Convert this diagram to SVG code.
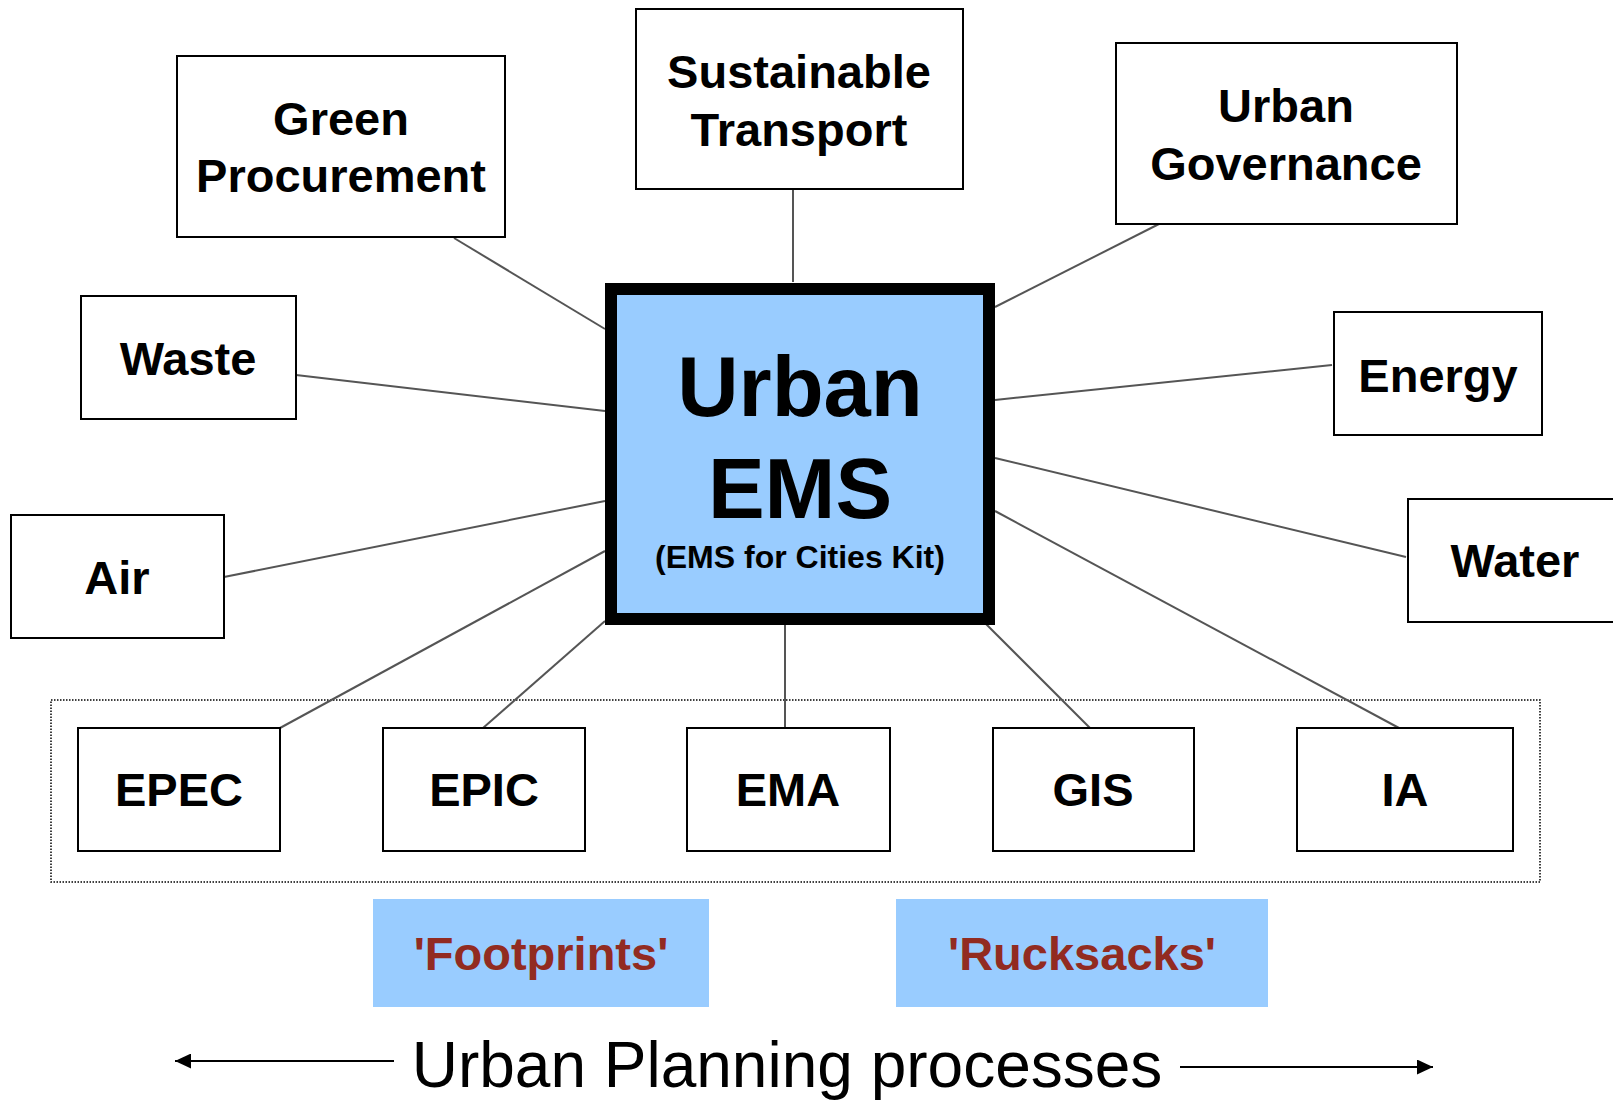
<svg xmlns="http://www.w3.org/2000/svg" width="1613" height="1102" viewBox="0 0 1613 1102">
<style>
  .box { fill: #ffffff; stroke: #000000; stroke-width: 2; }
  .lbl { font-family: "Liberation Sans", Arial, sans-serif; font-weight: bold; font-size: 47px; fill: #000000; text-anchor: middle; }
  .conn { stroke: #555555; stroke-width: 2; fill: none; }
  .tag { fill: #99ccff; }
  .tagt { font-family: "Liberation Sans", Arial, sans-serif; font-weight: bold; font-size: 47px; fill: #922b21; text-anchor: middle; }
  .big { font-family: "Liberation Sans", Arial, sans-serif; font-weight: bold; font-size: 85px; fill: #000000; text-anchor: middle; }
</style>
<defs>
  <marker id="ah" viewBox="0 0 16 15" refX="16" refY="7.5" markerWidth="16" markerHeight="15" orient="auto-start-reverse" markerUnits="userSpaceOnUse">
    <path d="M0,0 L16,7.5 L0,15 z" fill="#000000"/>
  </marker>
</defs>
<rect width="1613" height="1102" fill="#ffffff"/>
<rect id="group-frame" x="51" y="700" width="1489" height="182" fill="none" stroke="#000000" stroke-width="1.5" stroke-dasharray="1.5,1.5"/>
<g id="connectors">
  <line class="conn" x1="454" y1="238" x2="605" y2="329"/>
  <line class="conn" x1="793" y1="189" x2="793" y2="282"/>
  <line class="conn" x1="1159" y1="224" x2="995" y2="307"/>
  <line class="conn" x1="296" y1="375" x2="605" y2="411"/>
  <line class="conn" x1="1332" y1="365" x2="995" y2="400"/>
  <line class="conn" x1="224" y1="577" x2="605" y2="501"/>
  <line class="conn" x1="1406" y1="557" x2="995" y2="458"/>
  <line class="conn" x1="280" y1="728" x2="605" y2="551"/>
  <line class="conn" x1="483" y1="728" x2="605" y2="621"/>
  <line class="conn" x1="785" y1="728" x2="785" y2="623"/>
  <line class="conn" x1="1090" y1="728" x2="985" y2="623"/>
  <line class="conn" x1="1399" y1="728" x2="995" y2="511"/>
</g>
<g id="urban-ems">
  <rect x="611" y="289" width="378" height="330" fill="#99ccff" stroke="#000000" stroke-width="12"/>
  <text class="big" x="800" y="416">Urban</text>
  <text class="big" x="800" y="518">EMS</text>
  <text x="800" y="568" text-anchor="middle" font-family="Liberation Sans, Arial, sans-serif" font-weight="bold" font-size="32">(EMS for Cities Kit)</text>
</g>
<g id="green-procurement">
  <rect class="box" x="177" y="56" width="328" height="181"/>
  <text class="lbl" x="341" y="135">Green</text>
  <text class="lbl" x="341" y="192">Procurement</text>
</g>
<g id="sustainable-transport">
  <rect class="box" x="636" y="9" width="327" height="180"/>
  <text class="lbl" x="799" y="88">Sustainable</text>
  <text class="lbl" x="799" y="146">Transport</text>
</g>
<g id="urban-governance">
  <rect class="box" x="1116" y="43" width="341" height="181"/>
  <text class="lbl" x="1286" y="122">Urban</text>
  <text class="lbl" x="1286" y="180">Governance</text>
</g>
<g id="waste">
  <rect class="box" x="81" y="296" width="215" height="123"/>
  <text class="lbl" x="188" y="375">Waste</text>
</g>
<g id="energy">
  <rect class="box" x="1334" y="312" width="208" height="123"/>
  <text class="lbl" x="1438" y="392">Energy</text>
</g>
<g id="air">
  <rect class="box" x="11" y="515" width="213" height="123"/>
  <text class="lbl" x="117" y="594">Air</text>
</g>
<g id="water">
  <rect class="box" x="1408" y="499" width="220" height="123"/>
  <text class="lbl" x="1515" y="577">Water</text>
</g>
<g id="epec">
  <rect class="box" x="78" y="728" width="202" height="123"/>
  <text class="lbl" x="179" y="806">EPEC</text>
</g>
<g id="epic">
  <rect class="box" x="383" y="728" width="202" height="123"/>
  <text class="lbl" x="484" y="806">EPIC</text>
</g>
<g id="ema">
  <rect class="box" x="687" y="728" width="203" height="123"/>
  <text class="lbl" x="788" y="806">EMA</text>
</g>
<g id="gis">
  <rect class="box" x="993" y="728" width="201" height="123"/>
  <text class="lbl" x="1093" y="806">GIS</text>
</g>
<g id="ia">
  <rect class="box" x="1297" y="728" width="216" height="123"/>
  <text class="lbl" x="1405" y="806">IA</text>
</g>
<g id="footprints">
  <rect class="tag" x="373" y="899" width="336" height="108"/>
  <text class="tagt" x="541" y="970">'Footprints'</text>
</g>
<g id="rucksacks">
  <rect class="tag" x="896" y="899" width="372" height="108"/>
  <text class="tagt" x="1082" y="970">'Rucksacks'</text>
</g>
<g id="planning">
  <line x1="394" y1="1061" x2="175" y2="1061" stroke="#000000" stroke-width="2" marker-end="url(#ah)"/>
  <line x1="1180" y1="1067" x2="1433" y2="1067" stroke="#000000" stroke-width="2" marker-end="url(#ah)"/>
  <text x="787" y="1087" text-anchor="middle" font-family="Liberation Sans, Arial, sans-serif" font-size="64">Urban Planning processes</text>
</g>
</svg>
